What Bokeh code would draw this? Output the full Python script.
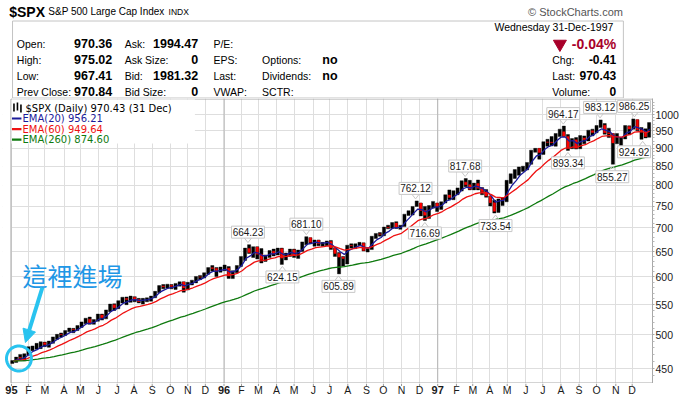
import math
import numpy as np
import pandas as pd
from bokeh.plotting import figure
from bokeh.layouts import column
from bokeh.models import (Range1d, FixedTicker, Span, Arrow, NormalHead,
                          NumeralTickFormatter, PolyAnnotation)
from bokeh.core.properties import value
from bokeh.embed import file_html
from bokeh.resources import INLINE

# ---------------- data (weekly) ----------------
first_week_end = "1995-01-06"
last_day = "1997-12-31"
start_close = 459.27

week_low = [
    457.2, 458.6, 463.0, 461.1, 469.2, 476.0, 478.0, 479.0, 482.0, 481.0, 487.0, 493.0, 497.0,
    499.0, 505.0, 503.5, 507.0, 512.0, 518.0, 517.0, 517.0, 522.0, 524.0, 526.0, 538.0, 540.0,
    543.0, 553.0, 550.0, 554.0, 555.0, 553.0, 551.0, 555.0, 556.0, 562.0, 571.0, 578.0, 579.0,
    578.0, 577.0, 583.0, 572.0, 576.0, 585.0, 589.0, 595.0, 598.0, 605.0, 611.0, 601.0, 609.0,
    612.0, 597.3, 597.0, 608.0, 620.0, 632.0, 646.0, 638.0, 635.0, 627.0, 630.0, 638.0, 641.0,
    643.0, 624.15, 633.0, 640.0, 638.0, 636.0, 650.0, 664.0, 666.0, 661.0, 662.0, 661.0, 662.0,
    654.0, 640.0, 605.89, 621.0, 625.0, 657.0, 656.0, 662.0, 651.0, 649.0, 654.0, 677.0, 682.0,
    683.0, 698.0, 699.0, 699.0, 697.0, 703.0, 728.0, 729.0, 749.0, 727.0, 716.69, 721.0, 745.0,
    737.0, 742.0, 757.0, 765.0, 765.0, 777.0, 786.0, 797.0, 789.0, 789.0, 789.0, 777.0, 771.0,
    750.0, 733.54, 735.0, 751.0, 760.0, 805.0, 818.0, 826.0, 836.0, 840.0, 855.0, 888.0, 869.0,
    882.0, 905.0, 906.0, 905.0, 933.0, 933.0, 893.34, 898.0, 897.0, 898.0, 912.0, 920.0, 935.0,
    944.0, 960.0, 940.0, 930.0, 855.27, 912.0, 902.0, 926.0, 938.0, 955.0, 950.0, 924.92, 929.0,
    931.0]
week_high = [
    461.3, 466.4, 470.4, 471.4, 482.0, 483.0, 487.0, 489.5, 489.0, 490.5, 497.0, 501.0, 503.2,
    507.0, 511.0, 510.5, 515.0, 521.0, 527.0, 529.0, 525.0, 534.0, 534.0, 541.0, 551.0, 551.5,
    557.0, 563.0, 563.5, 565.0, 564.0, 561.0, 561.0, 562.0, 565.0, 573.5, 584.0, 586.0, 586.5,
    586.0, 588.0, 591.0, 591.0, 590.0, 594.0, 601.0, 603.0, 608.0, 618.0, 622.0, 618.0, 619.0,
    623.0, 620.0, 612.0, 622.0, 640.0, 657.0, 664.23, 660.0, 660.0, 656.0, 643.0, 652.0, 655.0,
    657.0, 657.0, 647.0, 655.0, 655.0, 653.0, 670.0, 681.10, 679.0, 674.0, 674.0, 669.0, 672.0,
    673.0, 658.0, 648.0, 640.0, 663.0, 666.0, 666.0, 669.0, 668.0, 656.0, 682.0, 688.0, 690.0,
    702.0, 706.0, 712.0, 714.0, 706.0, 731.0, 739.0, 749.0, 762.12, 757.0, 749.0, 751.0, 761.0,
    757.0, 760.0, 777.0, 789.0, 787.0, 794.0, 812.0, 817.68, 813.0, 806.0, 814.0, 795.0, 790.0,
    774.0, 764.0, 767.0, 770.0, 813.0, 830.0, 841.0, 848.0, 850.0, 860.0, 894.0, 899.0, 899.0,
    918.0, 925.0, 933.0, 942.0, 955.0, 964.17, 939.0, 927.0, 930.0, 936.0, 935.0, 952.0, 955.0,
    966.0, 983.12, 972.0, 958.0, 942.0, 942.0, 930.0, 966.0, 965.0, 986.25, 984.0, 960.0, 956.0,
    975.0]
week_close = [
    460.68, 465.97, 464.78, 470.39, 478.65, 481.46, 481.97, 488.11, 485.42, 489.57, 495.52, 500.97, 500.71,
    506.13, 509.23, 508.49, 514.71, 520.12, 525.55, 519.19, 523.65, 532.51, 527.94, 539.83, 549.71, 544.75,
    556.37, 560.89, 558.94, 562.93, 558.94, 555.11, 559.21, 560.10, 563.84, 572.68, 583.35, 581.73, 584.41,
    582.49, 587.46, 590.65, 579.70, 589.72, 592.72, 600.07, 599.97, 606.98, 617.70, 616.34, 611.95, 615.93,
    616.71, 601.81, 611.83, 621.62, 635.84, 656.37, 647.98, 659.08, 644.37, 633.50, 641.43, 650.62, 645.50,
    655.86, 636.71, 645.07, 653.46, 641.63, 652.09, 668.91, 678.51, 669.12, 673.31, 665.85, 666.84, 670.63,
    657.44, 646.19, 638.73, 635.90, 662.49, 662.10, 665.21, 667.03, 651.99, 655.68, 680.54, 687.03, 686.19,
    701.46, 700.66, 710.82, 700.92, 703.77, 730.82, 737.62, 748.73, 757.02, 739.60, 728.64, 748.87, 756.79,
    748.03, 759.50, 776.17, 770.52, 786.16, 789.56, 808.48, 801.77, 790.82, 804.97, 793.17, 784.10, 773.88,
    757.90, 737.65, 766.34, 765.37, 812.97, 824.78, 829.75, 847.03, 848.28, 858.01, 893.27, 898.70, 887.30,
    916.92, 916.68, 915.30, 938.79, 947.14, 933.54, 900.81, 923.54, 899.47, 929.05, 923.91, 950.51, 945.22,
    965.03, 966.98, 944.16, 941.64, 914.62, 927.51, 928.35, 963.09, 955.40, 983.79, 953.39, 946.78, 932.70,
    970.43]

peak_dates = ["1996-02-12", "1996-05-22", "1996-11-25", "1997-02-18", "1997-08-05", "1997-10-07", "1997-12-05"]
peak_values = [664.23, 681.10, 762.12, 817.68, 964.17, 983.12, 986.25]
trough_dates = ["1996-04-11", "1996-07-16", "1996-12-11", "1997-04-11", "1997-08-13", "1997-10-28", "1997-12-19"]
trough_values = [624.15, 605.89, 716.69, 733.54, 893.34, 855.27, 924.92]

ema_periods = [20, 60, 260]
ema_colors = ["#1b1b9a", "#ee1111", "#0f7a0f"]
legend_texts = ["EMA(20) 956.21", "EMA(60) 949.64", "EMA(260) 874.60"]
legend_title = "$SPX (Daily) 970.43 (31 Dec)"

month_labels = ["95", "F", "M", "A", "M", "J", "J", "A", "S", "O", "N", "D",
                "96", "F", "M", "A", "M", "J", "J", "A", "S", "O", "N", "D",
                "97", "F", "M", "A", "M", "J", "J", "A", "S", "O", "N", "D"]
year_labels = ["95", "96", "97"]
y_ticks = [450, 500, 550, 600, 650, 700, 750, 800, 850, 900, 950, 1000]

quote_labels_1 = ["Open:", "High:", "Low:", "Prev Close:"]
quote_values_1 = ["970.36", "975.02", "967.41", "970.84"]
quote_labels_2 = ["Ask:", "Ask Size:", "Bid:", "Bid Size:"]
quote_values_2 = ["1994.47", "0", "1981.32", "0"]
quote_labels_3 = ["P/E:", "EPS:", "Last:", "VWAP:"]
quote_labels_4 = ["Options:", "Dividends:", "SCTR:"]
quote_values_4 = ["no", "no"]
quote_labels_5 = ["Chg:", "Last:", "Volume:"]
quote_values_5 = ["-0.41", "970.43", "0"]
date_text = "Wednesday  31-Dec-1997"
pct_text = "-0.04%"

# ---------------- geometry (page canvas starts at 0,0) ----------------
W = 681
HEAD_H, MAIN_H = 98, 285
AX_H = 397 - HEAD_H - MAIN_H
BL, BR = 2, 27
PXD = 0.5857                         # px per calendar day
REF_X, REF_DAY = 11.0, 2.0           # plot x 11 <-> 3 Jan 1995
PXDEC = 254.0 / math.log10(1000 / 450.0)   # px per decade (1000 at y=114, 450 at y=368)
X0 = REF_DAY + (BL - REF_X) / PXD
X1 = REF_DAY + (W - BR - REF_X) / PXD
Y1 = 10 ** (3 + (114 - HEAD_H) / PXDEC)
Y0 = 10 ** (3 - (HEAD_H + MAIN_H - 114) / PXDEC)
base = pd.Timestamp("1995-01-01")


def dday(s):
    return float((pd.Timestamp(s) - base).days)


def pxf(px):
    return 10 ** (px / PXDEC)


def sx(rx):
    return REF_DAY + (rx - REF_X) / PXD


def sy(ry):
    return 10 ** (3 - (ry - 114) / PXDEC)


week_ends = list(pd.date_range(first_week_end, periods=156, freq="W-FRI")) + [pd.Timestamp(last_day)]
wend = np.array([(d - base).days for d in week_ends], float)
centers = wend - 2.0
centers[0] = wend[0] - 1.5
centers[-1] = wend[-1] - 1.0

prev = [start_close] + week_close[:-1]
down = [c < pv for c, pv in zip(week_close, prev)]
dn_x = [x for x, d in zip(centers, down) if d]
dn_top = [pv for pv, d in zip(prev, down) if d]
dn_bot = [c for c, d in zip(week_close, down) if d]

month_days = [float((d - base).days) for d in pd.date_range("1995-01-01", periods=36, freq="BMS")]
month_days[0] = dday("1995-01-03")
month_days[12] = dday("1996-01-02")
month_days[24] = dday("1997-01-02")


def ema(vals, n):
    a = 2.0 / (n / 5.0 + 1.0)
    e = vals[0]
    out = []
    for v in vals:
        e = e + a * (v - e)
        out.append(e)
    return out

# ---------------- header ----------------
hd = figure(width=W, height=HEAD_H, x_range=Range1d(0, W), y_range=Range1d(HEAD_H, 0),
            toolbar_location=None, output_backend="svg", min_border=0,
            x_axis_location=None, y_axis_location=None)
hd.grid.visible = False
hd.outline_line_color = None

F = value("Liberation Sans")


def htext(x, y, t, size, style="normal", align="left", color="#000000"):
    hd.text(x=x, y=y, text=t, text_font=F, text_font_size=value(size),
            text_font_style=style, text_align=align, text_baseline="middle", text_color=color)


htext([7], [11], ["$SPX"], "14px", "bold")
htext([48], [11], ["S&P 500 Large Cap Index"], "10px")
htext([174], [11.5], ["INDX"], "8.5px")
htext([650], [11], ["\u00a9 StockCharts.com"], "11px", align="right", color="#555555")
hd.quad(left=10.5, right=650.5, top=20.5, bottom=97.5, fill_color=None, line_color="#c4c4c4")

rows = [43, 59, 75, 91]
htext([15] * 4, rows, quote_labels_1, "10.5px")
htext([115] * 4, rows, quote_values_1, "12.5px", "bold", "right")
htext([128] * 4, rows, quote_labels_2, "10.5px")
htext([205] * 4, rows, quote_values_2, "12.5px", "bold", "right")
htext([221] * 4, rows, quote_labels_3, "10.5px")
htext([272] * 3, rows[1:], quote_labels_4, "10.5px")
htext([335] * 2, rows[1:3], quote_values_4, "12.5px", "bold")
htext([643], [26], [date_text], "10.5px", align="right")
htext([643], [rows[0]], [pct_text], "14px", "bold", "right", "#a8002a")
hd.scatter(x=[584], y=[rows[0] + 0.5], marker="inverted_triangle", size=13,
           fill_color="#a8002a", line_color="#a8002a")
htext([576] * 3, rows[1:], quote_labels_5, "10.5px")
htext([643] * 3, rows[1:], quote_values_5, "12px", "bold", "right")

# ---------------- main chart ----------------
p = figure(width=W, height=MAIN_H, x_range=Range1d(X0, X1), y_range=Range1d(Y0, Y1),
           y_axis_type="log", y_axis_location="right", x_axis_location=None,
           toolbar_location=None, output_backend="svg",
           min_border_left=BL, min_border_right=BR, min_border_top=0, min_border_bottom=0)
p.outline_line_color = None
p.background_fill_color = "#ffffff"
p.border_fill_color = "#ffffff"
minor = [v for v in range(440, 1050, 10) if v % 50 != 0]
p.yaxis.ticker = FixedTicker(ticks=y_ticks, minor_ticks=minor)
p.yaxis.formatter = NumeralTickFormatter(format="0")
p.yaxis.major_label_text_font = "Liberation Sans"
p.yaxis.major_label_text_font_size = "10.5px"
p.yaxis.major_label_text_color = "#1a1a1a"
p.yaxis.axis_line_color = "#a8a8a8"
p.yaxis.major_tick_line_color = "#a8a8a8"
p.yaxis.minor_tick_line_color = "#b8b8b8"
p.yaxis.major_tick_in = 0
p.yaxis.major_tick_out = 2
p.yaxis.minor_tick_in = 0
p.yaxis.minor_tick_out = 2
p.yaxis.major_label_standoff = 1
p.ygrid.ticker = FixedTicker(ticks=y_ticks)
p.ygrid.grid_line_color = "#dedede"
p.xgrid.ticker = FixedTicker(ticks=month_days)
p.xgrid.grid_line_color = "#dedede"
for i in (12, 24):
    p.add_layout(Span(location=month_days[i], dimension="height", line_color="#b4b4b4",
                      line_width=1, level="underlay"))

# white margin left of the plot area and the plot border
p.quad(left=X0 - 5, right=sx(10.5), top=Y1 * 1.1, bottom=Y0 / 1.1, fill_color="#ffffff", line_color=None)
p.quad(left=sx(10.5), right=X1 + 5, top=sy(98.5), bottom=sy(382.5), fill_color=None,
       line_color="#a8a8a8", line_width=1)

# legend background
p.quad(left=sx(11), right=sx(195), top=sy(99), bottom=sy(143), fill_color="#ffffff", line_color=None)

# price bars: weekly high-low range in black, the week's decline in red
p.vbar(x=centers, width=5.4, top=week_high, bottom=week_low, fill_color="#000000",
       line_color="#000000", line_width=0.4)
p.vbar(x=dn_x, width=4.0, top=dn_top, bottom=dn_bot, fill_color="#ff0000",
       line_color="#ff0000", line_width=0.4)

# EMAs
for n, col in zip(ema_periods, ema_colors):
    p.line(x=list(wend), y=ema(week_close, n), line_color=col, line_width=1.3)


# peak / trough labels
def add_labels(dates, vals, up):
    half = 16.5
    for d, v in zip(dates, vals):
        xd = dday(d)
        xp = REF_X + (xd - REF_DAY) * PXD
        bxp = min(max(xp, 11 + half + 1), W - BR - half - 2)
        bx = sx(bxp)
        s = 1 if up else -1
        yc = v * pxf(s * 12.5)
        yb = v * pxf(s * 6.5)
        yt = v * pxf(s * 18.5)
        p.quad(left=bx - half / PXD, right=bx + half / PXD, top=max(yb, yt), bottom=min(yb, yt),
               fill_color="#ffffff", line_color="#c8c8c8", line_width=1)
        p.line(x=[xd - 3.5 / PXD, xd, xd + 3.5 / PXD], y=[yb, v * pxf(s * 2), yb],
               line_color="#c8c8c8", line_width=1)
        p.text(x=[bx], y=[yc], text=["%.2f" % v], text_font=F, text_font_size=value("10px"),
               text_align="center", text_baseline="middle", text_color="#1a1a1a")


add_labels(peak_dates, peak_values, True)
add_labels(trough_dates, trough_values, False)

# legend
p.text(x=[sx(25)], y=[sy(107.5)], text=[legend_title], text_font=value("DejaVu Sans"),
       text_font_size=value("10px"), text_baseline="middle", text_color="#000000")
ix = [sx(r) for r in (13.5, 17, 20.5)]
p.segment(x0=ix, y0=[sy(r) for r in (111, 110, 112)], x1=ix, y1=[sy(r) for r in (103, 102, 104)],
          line_color="#000000", line_width=1.6)
for i, (t, col) in enumerate(zip(legend_texts, ema_colors)):
    ry = 118 + i * 10.6
    p.line(x=[sx(11.5), sx(21)], y=[sy(ry), sy(ry)], line_color=col, line_width=2.2)
    p.text(x=[sx(22)], y=[sy(ry)], text=[t], text_font=value("DejaVu Sans"),
           text_font_size=value("10px"), text_baseline="middle", text_color=col)

# cyan callout
cyan = "#29c3ef"
p.text(x=[sx(22)], y=[sy(274)], text=["這裡進場"], text_font=value("Noto Sans CJK TC"),
       text_font_size=value("25px"), text_baseline="middle", text_color="#1e97e6")
ang = np.linspace(0, 2 * np.pi, 72)
r = 12.5
p.add_layout(PolyAnnotation(xs=list(sx(18.5) + r * np.cos(ang) / PXD),
                            ys=list(sy(358) * 10 ** (r * np.sin(ang) / PXDEC)),
                            fill_color=None, fill_alpha=0, line_color=cyan, line_alpha=1.0,
                            line_width=3))
p.add_layout(Arrow(end=NormalHead(size=13, fill_color=cyan, line_color=cyan),
                   x_start=sx(42), y_start=sy(287), x_end=sx(25), y_end=sy(342),
                   line_color=cyan, line_width=4))

# ---------------- x axis strip ----------------
ax = figure(width=W, height=AX_H, x_range=p.x_range, y_range=Range1d(AX_H, 0),
            toolbar_location=None, output_backend="svg",
            min_border_left=BL, min_border_right=BR, min_border_top=0, min_border_bottom=0,
            x_axis_location=None, y_axis_location=None)
ax.grid.visible = False
ax.outline_line_color = None
ax.segment(x0=month_days, y0=0, x1=month_days, y1=2.5, line_color="#9a9a9a")
mx = [d for d, l in zip(month_days, month_labels) if l not in year_labels]
ml = [l for l in month_labels if l not in year_labels]
yx = [d for d, l in zip(month_days, month_labels) if l in year_labels]
ax.text(x=mx, y=6.5, text=ml, text_font=F, text_font_size=value("10.5px"),
        text_align="center", text_baseline="middle", text_color="#1a1a1a")
ax.text(x=yx, y=6.5, text=year_labels, text_font=F, text_font_size=value("11px"),
        text_font_style="bold", text_align="center", text_baseline="middle", text_color="#1a1a1a")

layout = column(hd, p, ax, spacing=0)
open("out.html", "w").write(file_html(layout, INLINE))
